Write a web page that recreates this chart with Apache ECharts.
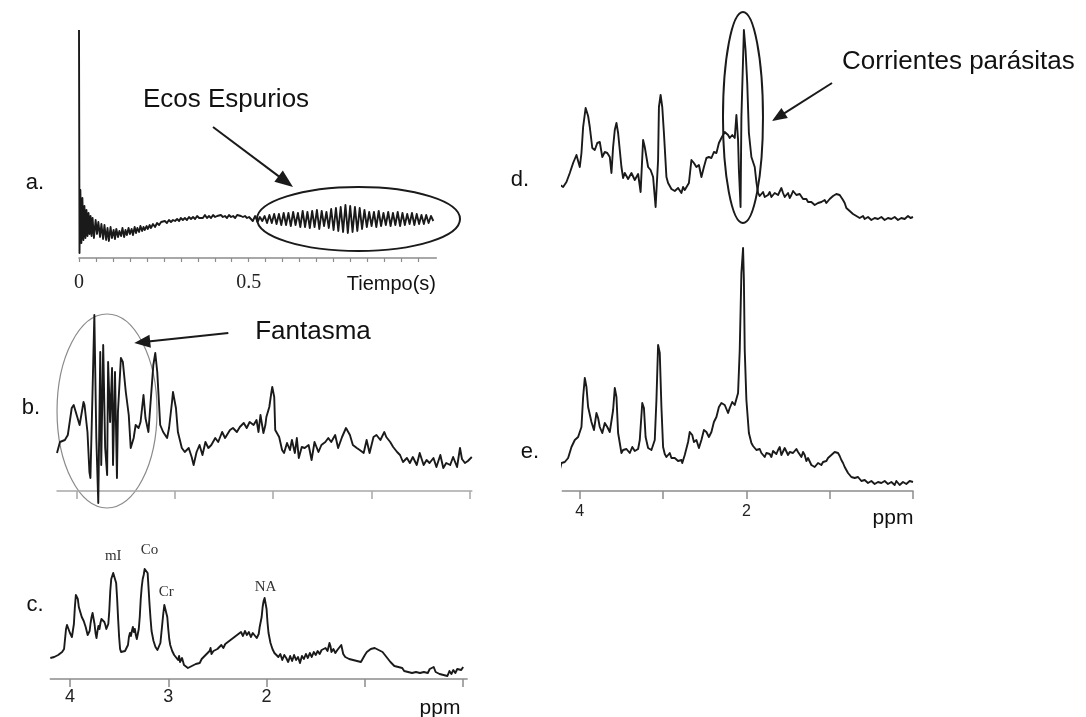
<!DOCTYPE html>
<html>
<head>
<meta charset="utf-8">
<script src="https://cdn.jsdelivr.net/npm/echarts@6/dist/echarts.min.js"></script>
<style>
html,body{margin:0;padding:0;background:#fff}
#chart{width:1086px;height:717px}
</style>
</head>
<body>
<div id="chart"></div>
<script>
// a. Free induction decay with spurious echoes: [time (s), amplitude]
const fidA = [
[0,228],[0.0015,5],[0.004,68],[0.007,15],[0.010,60],[0.013,18],[0.016,52],[0.019,20],[0.022,48],[0.025,22],
[0.028,45],[0.031,24],[0.034,42],[0.037,22],[0.040,40],[0.044,20],[0.049,38],[0.053,24],[0.057,36],[0.062,21],
[0.066,34],[0.071,19],[0.075,33],[0.080,18],[0.084,30],[0.088,17],[0.093,31],[0.097,20],[0.102,28],[0.106,19],
[0.110,29],[0.115,21],[0.119,27],[0.124,22],[0.128,30],[0.133,21],[0.137,28],[0.141,23],[0.146,30],[0.150,24],
[0.155,29],[0.159,23],[0.164,31],[0.168,25],[0.172,30],[0.177,26],[0.181,32],[0.186,27],[0.190,31],[0.194,28],
[0.199,32],[0.203,29],[0.208,33],[0.212,30],[0.218,34],[0.224,31],[0.230,35],[0.236,33],[0.242,36],[0.247,34],
[0.253,37],[0.259,35],[0.265,38],[0.271,36],[0.277,38],[0.283,37],[0.289,39],[0.295,37],[0.300,40],[0.306,38],
[0.312,40],[0.318,38],[0.324,41],[0.330,39],[0.336,41],[0.342,39],[0.348,42],[0.354,40],[0.359,42],[0.365,40],
[0.371,43],[0.377,40],[0.383,42],[0.389,40],[0.395,43],[0.401,41],[0.407,42],[0.412,40],[0.418,43],[0.424,41],
[0.430,42],[0.436,40],[0.442,43],[0.448,41],[0.454,42],[0.460,40],[0.466,43],[0.471,41],[0.477,42],[0.483,41],
[0.489,42],[0.495,40],[0.501,41],
[0.505,41],[0.512,37],[0.519,42],[0.526,36],[0.533,41],[0.540,37],[0.547,42],[0.554,35],[0.561,43],[0.568,35],
[0.575,44],[0.582,34],[0.589,44],[0.596,33],[0.603,45],[0.610,33],[0.617,45],[0.624,32],[0.631,46],[0.638,33],
[0.645,45],[0.652,31],[0.659,47],[0.666,31],[0.673,46],[0.680,30],[0.687,47],[0.694,31],[0.701,48],[0.708,29],
[0.715,47],[0.722,32],[0.729,46],[0.736,30],[0.743,49],[0.750,28],[0.757,50],[0.764,27],[0.771,51],[0.778,26],
[0.785,53],[0.792,25],[0.799,52],[0.806,26],[0.813,51],[0.820,27],[0.827,50],[0.834,29],[0.841,48],[0.848,31],
[0.855,46],[0.862,32],[0.869,46],[0.876,31],[0.883,47],[0.890,32],[0.897,45],[0.904,33],[0.911,46],[0.918,32],
[0.925,45],[0.932,33],[0.939,46],[0.946,32],[0.953,45],[0.960,33],[0.967,44],[0.974,34],[0.981,45],[0.988,33],
[0.995,44],[1.002,34],[1.009,43],[1.016,34],[1.023,43],[1.030,35],[1.037,42],[1.044,37]
];

// b. Spectrum with a ghost artefact: [ppm, intensity]
const specB = [
[4.20,38],[4.17,49],[4.12,51],[4.09,56],[4.05,83],[4.03,86],[4.00,76],[3.97,66],[3.93,89],[3.92,86],
[3.89,59],[3.87,19],[3.86,13],[3.84,93],[3.82,176],[3.80,53],[3.78,-12],[3.76,139],[3.75,26],[3.73,146],
[3.71,43],[3.69,16],[3.68,129],[3.66,69],[3.64,123],[3.63,26],[3.61,119],[3.59,13],[3.58,79],[3.55,133],
[3.53,129],[3.50,99],[3.47,76],[3.45,43],[3.42,53],[3.40,66],[3.37,63],[3.35,69],[3.32,96],[3.30,73],
[3.27,59],[3.25,86],[3.22,126],[3.20,138],[3.18,119],[3.15,66],[3.12,59],[3.08,53],[3.06,63],[3.03,89],
[3.02,99],[2.99,83],[2.97,59],[2.93,43],[2.90,39],[2.86,43],[2.83,34],[2.81,26],[2.78,39],[2.75,46],
[2.72,36],[2.69,49],[2.66,43],[2.63,46],[2.59,53],[2.56,49],[2.52,59],[2.49,53],[2.44,61],[2.41,63],
[2.37,59],[2.34,64],[2.30,68],[2.27,63],[2.24,69],[2.20,66],[2.17,71],[2.15,59],[2.13,76],[2.10,58],
[2.08,66],[2.07,74],[2.04,84],[2.02,98],[2.01,104],[1.99,94],[1.98,61],[1.96,63],[1.94,54],[1.91,41],
[1.89,38],[1.86,48],[1.83,41],[1.81,51],[1.78,38],[1.76,53],[1.74,33],[1.71,44],[1.68,43],[1.64,46],
[1.61,31],[1.58,49],[1.54,39],[1.51,46],[1.47,49],[1.44,53],[1.41,49],[1.37,56],[1.34,43],[1.30,54],
[1.28,56],[1.26,63],[1.22,56],[1.19,46],[1.15,43],[1.12,41],[1.08,38],[1.05,51],[1.02,38],[0.98,54],
[0.95,56],[0.91,51],[0.87,59],[0.85,54],[0.81,49],[0.78,44],[0.74,39],[0.71,36],[0.68,29],[0.64,33],
[0.61,28],[0.58,34],[0.54,26],[0.51,38],[0.47,26],[0.44,31],[0.41,28],[0.37,33],[0.34,24],[0.30,36],
[0.27,23],[0.24,28],[0.20,26],[0.17,34],[0.13,24],[0.10,43],[0.08,32],[0.05,28],[0.02,30],[-0.02,34]
];

// c. Clean reference spectrum: [ppm, intensity]
const specC = [
[4.20,21],[4.18,23],[4.16,22],[4.14,24],[4.12,24],[4.10,25],[4.08,27],[4.06,30],[4.05,40],[4.04,50],
[4.03,54],[4.02,52],[4.00,46],[3.98,42],[3.97,43],[3.96,55],[3.95,72],[3.94,84],[3.93,86],[3.92,80],
[3.91,72],[3.90,70],[3.88,62],[3.86,58],[3.84,52],[3.83,48],[3.82,44],[3.81,42],[3.80,48],[3.79,56],
[3.78,62],[3.77,66],[3.76,65],[3.75,55],[3.74,46],[3.73,41],[3.72,48],[3.71,53],[3.70,50],[3.69,56],
[3.68,60],[3.67,58],[3.66,61],[3.65,57],[3.64,54],[3.63,50],[3.62,48],[3.61,55],[3.60,68],[3.59,88],
[3.58,100],[3.56,106],[3.55,107],[3.54,105],[3.53,96],[3.52,80],[3.51,60],[3.50,42],[3.49,30],[3.48,27],
[3.46,26],[3.44,28],[3.42,30],[3.41,34],[3.40,42],[3.39,46],[3.38,43],[3.37,48],[3.36,52],[3.35,47],
[3.34,50],[3.33,44],[3.32,40],[3.31,42],[3.30,50],[3.29,62],[3.28,80],[3.27,92],[3.26,100],[3.25,104],
[3.24,110],[3.23,112],[3.22,110],[3.21,106],[3.20,90],[3.19,74],[3.18,60],[3.17,48],[3.15,38],[3.13,32],
[3.11,29],[3.10,30],[3.08,36],[3.07,46],[3.06,56],[3.05,66],[3.04,74],[3.03,76],[3.02,72],[3.01,62],
[3.00,50],[2.99,40],[2.98,34],[2.96,28],[2.94,24],[2.92,22],[2.90,19],[2.89,23],[2.88,17],[2.86,21],
[2.84,14],[2.82,12],[2.80,11],[2.78,11],[2.76,13],[2.74,12],[2.72,15],[2.70,17],[2.68,16],[2.66,20],
[2.64,18],[2.62,24],[2.60,22],[2.58,28],[2.57,31],[2.56,25],[2.54,28],[2.52,26],[2.50,30],[2.48,28],
[2.46,34],[2.44,31],[2.42,35],[2.40,33],[2.38,38],[2.36,36],[2.34,41],[2.32,39],[2.30,44],[2.28,42],
[2.26,47],[2.24,43],[2.22,48],[2.20,44],[2.18,47],[2.16,42],[2.14,46],[2.12,44],[2.10,41],[2.08,45],
[2.07,52],[2.05,62],[2.04,72],[2.03,78],[2.02,81],[2.01,79],[2.00,70],[1.99,56],[1.98,46],[1.96,36],
[1.94,30],[1.92,26],[1.90,27],[1.88,22],[1.86,25],[1.84,19],[1.82,24],[1.80,21],[1.78,17],[1.76,23],
[1.74,18],[1.72,24],[1.70,19],[1.68,22],[1.66,16],[1.64,23],[1.62,20],[1.60,25],[1.58,21],[1.56,26],
[1.54,22],[1.52,27],[1.50,24],[1.48,28],[1.46,25],[1.44,29],[1.42,28],[1.40,31],[1.38,28],[1.36,36],
[1.35,33],[1.34,27],[1.32,30],[1.30,26],[1.28,29],[1.26,27],[1.24,34],[1.23,33],[1.22,25],[1.20,22],
[1.18,24],[1.16,20],[1.14,22],[1.12,19],[1.10,21],[1.08,18],[1.06,19],[1.04,17],[1.02,18],[1.00,24],
[0.98,27],[0.96,29],[0.94,30],[0.92,28],[0.90,31],[0.88,32],[0.86,29],[0.84,31],[0.82,27],[0.80,25],
[0.78,22],[0.76,20],[0.74,17],[0.72,15],[0.70,13],[0.68,11],[0.66,12],[0.64,10],[0.62,11],[0.60,8],
[0.58,10],[0.56,7],[0.54,9],[0.52,6],[0.50,8],[0.48,7],[0.46,9],[0.44,6],[0.42,8],[0.40,7],
[0.38,9],[0.36,6],[0.34,10],[0.32,8],[0.30,12],[0.28,7],[0.26,9],[0.24,5],[0.22,7],[0.20,4],
[0.18,6],[0.16,3],[0.14,8],[0.12,5],[0.10,9],[0.08,6],[0.06,10],[0.04,8],[0.02,9],[0.00,12]
];

// d. Spectrum distorted by eddy currents: [ppm, intensity]
const specD = [
[4.28,50],[4.26,53],[4.24,45],[4.20,43],[4.16,48],[4.12,57],[4.08,67],[4.04,75],[4.02,73],[4.00,63],
[3.98,77],[3.96,103],[3.93,122],[3.90,114],[3.88,103],[3.85,82],[3.82,80],[3.79,87],[3.76,88],[3.73,73],
[3.70,78],[3.67,77],[3.64,73],[3.62,57],[3.60,83],[3.58,100],[3.56,107],[3.54,97],[3.50,63],[3.48,52],
[3.46,57],[3.44,55],[3.42,51],[3.40,53],[3.38,57],[3.36,55],[3.34,50],[3.32,52],[3.30,56],[3.29,55],
[3.27,38],[3.24,90],[3.22,83],[3.18,63],[3.15,60],[3.12,53],[3.09,23],[3.06,70],[3.05,123],[3.03,135],
[3.01,123],[2.99,97],[2.96,53],[2.94,47],[2.92,45],[2.90,41],[2.88,42],[2.86,39],[2.84,40],[2.82,42],
[2.80,40],[2.78,37],[2.76,43],[2.74,40],[2.72,38],[2.69,47],[2.66,70],[2.63,67],[2.60,63],[2.57,65],
[2.54,53],[2.51,63],[2.48,72],[2.45,73],[2.42,72],[2.39,78],[2.36,77],[2.33,87],[2.30,92],[2.26,98],
[2.22,95],[2.20,92],[2.17,95],[2.14,92],[2.12,115],[2.10,90],[2.09,60],[2.07,23],[2.06,113],[2.03,200],
[2.01,180],[1.99,147],[1.97,97],[1.94,73],[1.90,63],[1.88,48],[1.86,37],[1.84,34],[1.82,35],[1.80,38],
[1.78,33],[1.76,32],[1.74,35],[1.72,38],[1.70,33],[1.68,34],[1.66,37],[1.64,39],[1.62,35],[1.60,33],
[1.58,42],[1.56,37],[1.54,33],[1.52,35],[1.50,37],[1.48,32],[1.46,35],[1.44,39],[1.42,38],[1.40,35],
[1.38,33],[1.36,36],[1.34,37],[1.32,31],[1.30,33],[1.28,31],[1.26,28],[1.24,26],[1.22,28],[1.20,29],
[1.18,25],[1.16,27],[1.14,27],[1.12,25],[1.10,28],[1.08,30],[1.06,30],[1.04,27],[1.02,28],[1.00,31],
[0.98,33],[0.96,34],[0.94,35],[0.92,36],[0.90,38],[0.88,35],[0.86,33],[0.84,30],[0.82,27],[0.80,22],
[0.78,20],[0.76,19],[0.74,18],[0.72,16],[0.70,15],[0.68,14],[0.66,13],[0.64,12],[0.62,12],[0.60,14],
[0.58,11],[0.56,10],[0.54,13],[0.52,12],[0.50,10],[0.48,11],[0.46,12],[0.44,13],[0.42,11],[0.40,10],
[0.38,13],[0.36,12],[0.34,10],[0.32,11],[0.30,12],[0.28,13],[0.26,11],[0.24,10],[0.22,13],[0.20,12],
[0.18,10],[0.16,11],[0.14,12],[0.12,13],[0.10,11],[0.08,10],[0.06,14],[0.04,13],[0.03,12],[0.015,11],
[0.00,13]
];

// e. Corrected spectrum: [ppm, intensity]
const specE = [
[4.30,29],[4.27,31],[4.24,21],[4.22,28],[4.18,29],[4.14,33],[4.10,44],[4.06,51],[4.02,54],[4.00,53],
[3.98,64],[3.96,94],[3.94,113],[3.92,104],[3.90,84],[3.86,69],[3.83,61],[3.80,78],[3.78,73],[3.76,64],
[3.73,58],[3.70,68],[3.67,64],[3.64,59],[3.62,59],[3.60,81],[3.58,103],[3.56,94],[3.54,58],[3.50,38],
[3.48,41],[3.46,39],[3.44,42],[3.42,43],[3.40,38],[3.39,39],[3.37,44],[3.36,43],[3.34,40],[3.32,39],
[3.30,42],[3.28,51],[3.25,88],[3.23,83],[3.21,54],[3.18,43],[3.14,41],[3.10,51],[3.08,91],[3.06,146],
[3.04,138],[3.02,84],[3.00,44],[2.98,37],[2.96,34],[2.94,36],[2.92,38],[2.90,33],[2.88,31],[2.86,33],
[2.84,31],[2.82,30],[2.80,29],[2.78,31],[2.77,28],[2.74,36],[2.70,49],[2.68,59],[2.65,56],[2.63,49],
[2.60,51],[2.57,43],[2.54,51],[2.51,61],[2.48,59],[2.45,54],[2.42,59],[2.39,69],[2.36,74],[2.33,84],
[2.30,88],[2.26,86],[2.22,78],[2.20,83],[2.17,89],[2.14,86],[2.10,98],[2.08,141],[2.06,218],[2.04,243],
[2.03,211],[2.02,141],[2.00,91],[1.97,58],[1.94,48],[1.92,45],[1.90,43],[1.88,41],[1.86,39],[1.84,42],
[1.82,38],[1.80,36],[1.78,34],[1.76,38],[1.74,36],[1.72,37],[1.70,34],[1.68,40],[1.66,39],[1.64,37],
[1.62,41],[1.60,44],[1.58,36],[1.56,38],[1.54,43],[1.52,42],[1.50,36],[1.48,39],[1.46,41],[1.44,38],
[1.42,36],[1.40,42],[1.38,39],[1.36,37],[1.34,34],[1.32,39],[1.30,36],[1.28,30],[1.26,33],[1.24,31],
[1.22,26],[1.20,27],[1.18,24],[1.16,22],[1.14,28],[1.12,29],[1.10,26],[1.08,29],[1.06,31],[1.04,30],
[1.02,33],[1.00,35],[0.98,36],[0.96,37],[0.94,39],[0.92,40],[0.90,38],[0.88,35],[0.86,31],[0.84,28],
[0.82,24],[0.80,21],[0.78,18],[0.76,17],[0.74,14],[0.72,15],[0.70,13],[0.68,12],[0.66,14],[0.64,13],
[0.62,10],[0.60,9],[0.58,11],[0.56,12],[0.54,8],[0.52,9],[0.50,10],[0.48,11],[0.46,7],[0.44,9],
[0.42,9],[0.40,10],[0.38,8],[0.36,7],[0.34,10],[0.32,11],[0.30,7],[0.28,9],[0.26,9],[0.24,8],
[0.22,6],[0.20,10],[0.18,8],[0.16,6],[0.14,7],[0.12,9],[0.10,9],[0.08,7],[0.06,8],[0.04,10],
[0.02,10],[0.00,9]
];

// Axis ticks and labels
const timeTicks = [0,0.05,0.1,0.15,0.2,0.25,0.3,0.35,0.4,0.45,0.5,0.55,0.6,0.65,0.7,0.75,0.8,0.85,0.9,0.95,1.0];
const timeLabels = [0, 0.5];
const ppmTicks = [4, 3, 2, 1, 0];
const ppmLabelsC = [4, 3, 2];
const ppmLabelsE = [4, 2];

// Metabolite names in panel c: [name, ppm, intensity at label centre]
const peakNames = [['mI', 3.56, 123], ['Co', 3.19, 129], ['Cr', 3.02, 87], ['NA', 2.01, 92]];

const SANS = 'Liberation Sans, Arial, sans-serif';
const SERIF = 'Liberation Serif, Times New Roman, serif';
const INK = '#1a1a1a';
const AXIS = '#8c8c8c';

const chart = echarts.init(document.getElementById('chart'), null, {renderer: 'canvas'});

function ppmAxis(grid, min, max, opts) {
  return Object.assign({
    gridIndex: grid, type: 'value', min: min, max: max, inverse: true,
    axisLine: {show: true, onZero: false, lineStyle: {color: AXIS, width: 1.5}},
    axisTick: {show: true, customValues: ppmTicks, length: 8, lineStyle: {color: AXIS, width: 1.5}},
    axisLabel: {show: false},
    splitLine: {show: false}
  }, opts || {});
}
function hiddenY(grid, max) {
  return {gridIndex: grid, type: 'value', min: 0, max: max, show: false, splitLine: {show: false}};
}
function trace(grid, data) {
  return {
    type: 'line', xAxisIndex: grid, yAxisIndex: grid, data: data,
    showSymbol: false, symbol: 'none', clip: false, silent: true,
    lineStyle: {color: INK, width: 1.9, join: 'round'}
  };
}

const option = {
  animation: false,
  backgroundColor: '#ffffff',
  grid: [
    {left: 79, top: 30, width: 357.4, height: 228, outerBoundsMode: 'none'},
    {left: 57, top: 291, width: 414.8, height: 200, outerBoundsMode: 'none'},
    {left: 50.3, top: 559, width: 416.8, height: 120, outerBoundsMode: 'none'},
    {left: 562.3, top: 10, width: 350.7, height: 220, outerBoundsMode: 'none'},
    {left: 562.3, top: 246, width: 350.7, height: 245, outerBoundsMode: 'none'}
  ],
  xAxis: [
    {
      gridIndex: 0, type: 'value', min: 0, max: 1.053,
      axisLine: {show: true, onZero: false, lineStyle: {color: AXIS, width: 1.5}},
      axisTick: {show: true, customValues: timeTicks, length: 4, lineStyle: {color: AXIS, width: 1.2}},
      axisLabel: {show: true, customValues: timeLabels, margin: 15, color: '#222',
        fontFamily: SERIF, fontSize: 20, formatter: v => String(v)},
      splitLine: {show: false}
    },
    ppmAxis(1, -0.02, 4.2, {axisLine: {show: true, onZero: false, lineStyle: {color: '#a8a8a8', width: 1.5}},
      axisTick: {show: true, customValues: ppmTicks, length: 8, lineStyle: {color: '#a8a8a8', width: 1.5}}}),
    ppmAxis(2, -0.04, 4.2, {axisLabel: {show: true, customValues: ppmLabelsC, margin: 9,
      color: '#222', fontFamily: SANS, fontSize: 18}}),
    {gridIndex: 3, type: 'value', min: 0, max: 4.21, inverse: true, show: false, splitLine: {show: false}},
    ppmAxis(4, 0, 4.21, {axisLabel: {show: true, customValues: ppmLabelsE, margin: 13,
      color: '#222', fontFamily: SANS, fontSize: 16}})
  ],
  yAxis: [hiddenY(0, 228), hiddenY(1, 200), hiddenY(2, 120), hiddenY(3, 220), hiddenY(4, 245)],
  series: [trace(0, fidA), trace(1, specB), trace(2, specC), trace(3, specD), trace(4, specE)]
};
chart.setOption(option);

// ---- annotations: panel letters, captions, ellipses and arrows ----
const px = (g, p) => chart.convertToPixel({gridIndex: g}, p);

function text(str, x, y, size, family, align, color) {
  return {type: 'text', x: x, y: y, silent: true,
    style: {text: str, fontSize: size, fontFamily: family || SANS, fill: color || '#111',
      align: align || 'center', verticalAlign: 'middle'}};
}
function ellipse(c, rx, ry, color, w) {
  return {type: 'ellipse', silent: true, shape: {cx: c[0], cy: c[1], rx: rx, ry: ry},
    style: {fill: null, stroke: color, lineWidth: w}};
}
function arrow(p0, p1, len, half, w) {
  const dx = p1[0] - p0[0], dy = p1[1] - p0[1];
  const L = Math.hypot(dx, dy), ux = dx / L, uy = dy / L;
  const bx = p1[0] - ux * len, by = p1[1] - uy * len;
  return [
    {type: 'line', silent: true, shape: {x1: p0[0], y1: p0[1], x2: bx + ux * 2, y2: by + uy * 2},
      style: {stroke: INK, lineWidth: w}},
    {type: 'polygon', silent: true,
      shape: {points: [[p1[0], p1[1]], [bx - uy * half, by + ux * half], [bx + uy * half, by - ux * half]]},
      style: {fill: INK}}
  ];
}

const g = [];
// panel letters
g.push(text('a.', 35, 183, 22), text('b.', 31, 408, 22), text('c.', 35, 605, 22),
       text('d.', 520, 180, 22), text('e.', 530, 452, 22));
// a. spurious echoes
g.push(text('Ecos Espurios', 226, 100, 26));
g.push(ellipse(px(0, [0.8235, 39]), 101.5, 32, INK, 2));
g.push(...arrow(px(0, [0.3948, 131]), px(0, [0.6305, 71]), 18, 7, 2));
g.push(text('Tiempo(s)', 436, 284, 20, SANS, 'right'));
// b. ghost
g.push(text('Fantasma', 313, 332, 26));
g.push(ellipse(px(1, [3.691, 80]), 50, 97, '#8a8a8a', 1.2));
g.push(...arrow(px(1, [2.457, 158]), px(1, [3.414, 148]), 16, 6.5, 2.2));
// c. metabolite names and unit
peakNames.forEach(([name, ppm, h]) => {
  const p = px(2, [ppm, h]);
  g.push(text(name, p[0], p[1], 15, SERIF, 'center', '#333'));
});
g.push(text('ppm', 440, 708, 21));
// d. eddy currents
g.push(text('Corrientes parásitas', 842, 62, 26, SANS, 'left'));
g.push(ellipse(px(3, [2.041, 112.5]), 20, 105.5, INK, 2));
g.push(...arrow(px(3, [0.972, 147]), px(3, [1.693, 109]), 15, 6, 2));
// e. unit
g.push(text('ppm', 893, 518, 21));

chart.setOption({graphic: {elements: g}});
</script>
</body>
</html>
